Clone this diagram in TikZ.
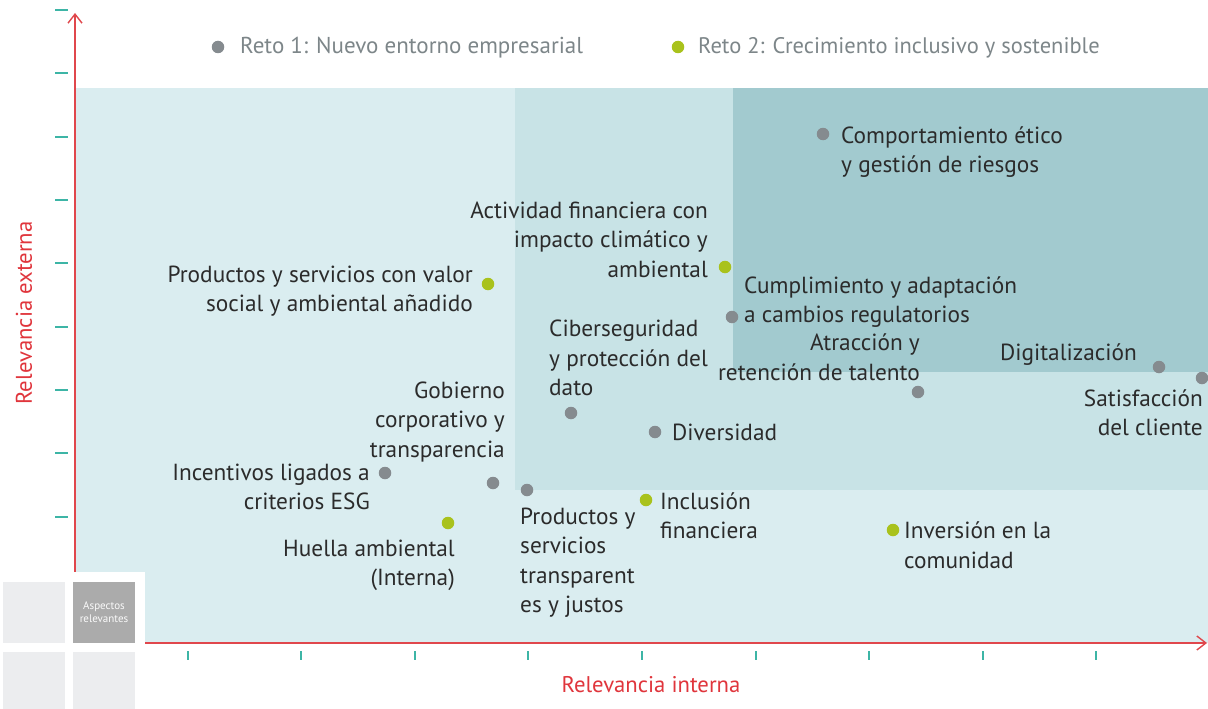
\documentclass[tikz,border=0pt]{standalone}
\usepackage{fontspec}
\setmainfont{PT Sans}
\usetikzlibrary{arrows.meta}
\definecolor{bgA}{HTML}{DAEDF0}
\definecolor{bgB}{HTML}{C8E3E6}
\definecolor{bgC}{HTML}{A2CACF}
\definecolor{axisred}{HTML}{E0474C}
\definecolor{labred}{HTML}{E0353C}
\definecolor{tickteal}{HTML}{3DB5A6}
\definecolor{dotgray}{HTML}{858B8F}
\definecolor{dotgreen}{HTML}{A9C21C}
\definecolor{txt}{HTML}{2B2B2B}
\definecolor{legtxt}{HTML}{7D8689}
\definecolor{sqlight}{HTML}{ECEDEF}
\definecolor{sqdark}{HTML}{ABABAB}
\tikzset{
  lab/.style={inner sep=0pt, text=txt, font=\fontsize{23.3}{29.3}\selectfont},
  labL/.style={lab, align=left, anchor=base west},
  labR/.style={lab, align=right, anchor=base east},
  gdot/.style={circle, fill=dotgray, minimum size=12.5pt, inner sep=0pt},
  vdot/.style={circle, fill=dotgreen, minimum size=12.5pt, inner sep=0pt},
  ytick/.style={draw=tickteal, line width=2.5pt},
  xtick/.style={draw=tickteal, line width=2pt},
  axis/.style={draw=axisred, line width=1.4pt, -{Straight Barb[length=9pt,width=14pt,line width=1.4pt]}},
  axlab/.style={inner sep=0pt, text=labred, font=\fontsize{22.7}{26}\selectfont},
  legtext/.style={inner sep=0pt, anchor=base west, text=legtxt, font=\fontsize{23}{26}\selectfont},
}
\begin{document}
\begin{tikzpicture}[x=1pt,y=-1pt]
\useasboundingbox (0,0) rectangle (1208,709);
\fill[white] (0,0) rectangle (1208,709);
% background zones
\fill[bgA] (75,88) rectangle (1208,643);
\fill[bgB] (515,88) rectangle (1208,490);
\fill[bgC] (733,88) rectangle (1208,372);
% axes
\coordinate (yb) at (75,643);
\coordinate (yt) at (75,13);
\coordinate (xl) at (75,643);
\coordinate (xr) at (1207,643);
\draw[axis] (yb) -- (yt);
\draw[axis] (xl) -- (xr);
% ticks
\foreach \y in {10,73,137,200,263,327,390,453,517}
  \draw[ytick] (55,\y) -- (68,\y);
\foreach \x in {188,301,415,528,642,756,869,983,1096}
  \draw[xtick] (\x,651) -- (\x,660);
% corner legend box
\fill[white] (0,572) rectangle (145,709);
\fill[sqlight] (3,582) rectangle (65,643);
\fill[sqdark] (73,582) rectangle (135,643);
\fill[sqlight] (3,652) rectangle (65,709);
\fill[sqlight] (73,652) rectangle (135,709);
\node[inner sep=0pt, text=white!94!sqdark, align=center, font=\fontsize{11}{13}\selectfont] (asp) at (104,612) {Aspectos\\relevantes};
% axis labels
\node[axlab, anchor=base] (xlab) at (651,692) {Relevancia interna};
\node[axlab, rotate=90] (ylab) at (24,313) {Relevancia externa};
% legend
\node[gdot] (lg1) at (218,47) {};
\node[legtext] (lt1) at (240,54) {Reto 1: Nuevo entorno empresarial};
\node[vdot] (lg2) at (678,47) {};
\node[legtext, font=\fontsize{22.5}{26}\selectfont] (lt2) at (698,54) {Reto 2: Crecimiento inclusivo y sostenible};
% dots
\node[gdot] (d1) at (823,134) {};
\node[vdot] (d2) at (725,267) {};
\node[gdot] (d3) at (732,317) {};
\node[gdot] (d4) at (918,392) {};
\node[gdot] (d5) at (1159,367) {};
\node[gdot] (d6) at (1202,378) {};
\node[vdot] (d7) at (488,284) {};
\node[gdot] (d8) at (571,413) {};
\node[gdot] (d9) at (493,483) {};
\node[gdot] (d10) at (655,432) {};
\node[gdot] (d11) at (385,473) {};
\node[vdot] (d12) at (448,523) {};
\node[gdot] (d13) at (527,490) {};
\node[vdot] (d14) at (646,500) {};
\node[vdot] (d15) at (893,530) {};
% labels (anchor base = baseline of the last line)
\node[labL] (l1) at (841,172.5) {Comportamiento ético\\y gestión de riesgos};
\node[labR] (l2) at (708,277) {Actividad financiera con\\impacto climático y\\ambiental};
\node[labL] (l3) at (744,322.5) {Cumplimiento y adaptación\\a cambios regulatorios};
\node[labR] (l4) at (920,380) {Atracción y\\retención de talento};
\node[labR] (l5) at (1137,360) {Digitalización};
\node[labR] (l6) at (1203,435.5) {Satisfacción\\del cliente};
\node[labR] (l7) at (473,311.5) {Productos y servicios con valor\\social y ambiental añadido};
\node[labL] (l8) at (549,395.5) {Ciberseguridad\\y protección del\\dato};
\node[labR] (l9) at (505,457) {Gobierno\\corporativo y\\transparencia};
\node[labL] (l10) at (672,440) {Diversidad};
\node[labR] (l11) at (370,509.5) {Incentivos ligados a\\criterios ESG};
\node[labR] (l12) at (455,585.5) {Huella ambiental\\(Interna)};
\node[labL] (l13) at (520,612.5) {Productos y\\servicios\\transparent\\es y justos};
\node[labL] (l14) at (660,538.5) {Inclusión\\financiera};
\node[labL] (l15) at (904,568) {Inversión en la\\comunidad};
\end{tikzpicture}
\end{document}
